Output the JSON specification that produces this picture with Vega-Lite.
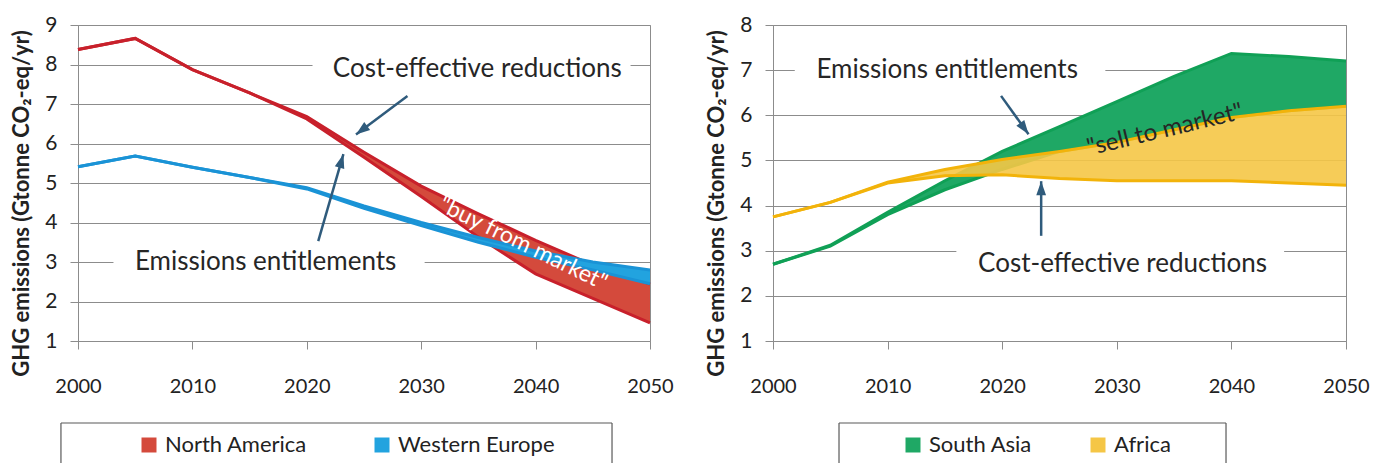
{
  "$schema": "https://vega.github.io/schema/vega-lite/v6.json",
  "background": "white",
  "padding": {"left": 9, "top": 13, "right": 0, "bottom": 0},
  "spacing": 30,
  "config": {
    "font": "Lato",
    "view": {"stroke": "#8c8c8c", "strokeWidth": 1},
    "axis": {"labelFont": "Lato", "labelColor": "#222222", "domainColor": "#8c8c8c", "domainWidth": 1, "tickColor": "#8c8c8c", "tickWidth": 1, "tickSize": 8, "gridColor": "#8c8c8c", "gridWidth": 1, "gridOpacity": 1, "titleFont": "Lato, DejaVu Sans", "titleColor": "#222222"},
    "axisX": {"grid": false, "tickCount": 5, "labelFontSize": 20, "labelPadding": 27, "labelFlush": false},
    "axisY": {"grid": true, "tickCount": 8, "labelFontSize": 21, "labelPadding": 13, "titleFontSize": 22, "titleFontWeight": "bold", "titleX": -45, "titleY": 178, "titleAngle": -90},
    "legend": {"labelFont": "Lato", "labelFontSize": 22, "labelColor": "#222222", "symbolType": "square", "symbolSize": 225, "symbolStrokeWidth": 0, "labelOffset": 5, "padding": 0}
  },
  "datasets": {
    "left": [
      {"region": "North America", "year": 2000, "hi": 8.38, "lo": 8.38},
      {"region": "North America", "year": 2005, "hi": 8.66, "lo": 8.66},
      {"region": "North America", "year": 2010, "hi": 7.87, "lo": 7.87},
      {"region": "North America", "year": 2015, "hi": 7.28, "lo": 7.28},
      {"region": "North America", "year": 2020, "hi": 6.68, "lo": 6.62},
      {"region": "North America", "year": 2025, "hi": 5.78, "lo": 5.65},
      {"region": "North America", "year": 2030, "hi": 4.92, "lo": 4.66},
      {"region": "North America", "year": 2035, "hi": 4.22, "lo": 3.63},
      {"region": "North America", "year": 2040, "hi": 3.55, "lo": 2.7},
      {"region": "North America", "year": 2045, "hi": 2.92, "lo": 2.08},
      {"region": "North America", "year": 2050, "hi": 2.44, "lo": 1.46},
      {"region": "Western Europe", "year": 2000, "hi": 5.41, "lo": 5.41},
      {"region": "Western Europe", "year": 2005, "hi": 5.68, "lo": 5.68},
      {"region": "Western Europe", "year": 2010, "hi": 5.4, "lo": 5.4},
      {"region": "Western Europe", "year": 2015, "hi": 5.14, "lo": 5.14},
      {"region": "Western Europe", "year": 2020, "hi": 4.88, "lo": 4.85},
      {"region": "Western Europe", "year": 2025, "hi": 4.42, "lo": 4.36},
      {"region": "Western Europe", "year": 2030, "hi": 4.0, "lo": 3.92},
      {"region": "Western Europe", "year": 2035, "hi": 3.62, "lo": 3.5},
      {"region": "Western Europe", "year": 2040, "hi": 3.28, "lo": 3.12},
      {"region": "Western Europe", "year": 2045, "hi": 3.0, "lo": 2.8},
      {"region": "Western Europe", "year": 2050, "hi": 2.8, "lo": 2.45}
    ],
    "right": [
      {"region": "South Asia", "year": 2000, "hi": 2.7, "lo": 2.7},
      {"region": "South Asia", "year": 2005, "hi": 3.12, "lo": 3.1},
      {"region": "South Asia", "year": 2010, "hi": 3.85, "lo": 3.8},
      {"region": "South Asia", "year": 2015, "hi": 4.55, "lo": 4.35},
      {"region": "South Asia", "year": 2020, "hi": 5.2, "lo": 4.8},
      {"region": "South Asia", "year": 2025, "hi": 5.75, "lo": 5.2},
      {"region": "South Asia", "year": 2030, "hi": 6.3, "lo": 5.4},
      {"region": "South Asia", "year": 2035, "hi": 6.86, "lo": 5.68},
      {"region": "South Asia", "year": 2040, "hi": 7.37, "lo": 5.95},
      {"region": "South Asia", "year": 2045, "hi": 7.3, "lo": 6.1},
      {"region": "South Asia", "year": 2050, "hi": 7.2, "lo": 6.2},
      {"region": "Africa", "year": 2000, "hi": 3.75, "lo": 3.75},
      {"region": "Africa", "year": 2005, "hi": 4.07, "lo": 4.07},
      {"region": "Africa", "year": 2010, "hi": 4.52, "lo": 4.5},
      {"region": "Africa", "year": 2015, "hi": 4.8, "lo": 4.66},
      {"region": "Africa", "year": 2020, "hi": 5.02, "lo": 4.68},
      {"region": "Africa", "year": 2025, "hi": 5.2, "lo": 4.6},
      {"region": "Africa", "year": 2030, "hi": 5.4, "lo": 4.55},
      {"region": "Africa", "year": 2035, "hi": 5.68, "lo": 4.55},
      {"region": "Africa", "year": 2040, "hi": 5.95, "lo": 4.55},
      {"region": "Africa", "year": 2045, "hi": 6.1, "lo": 4.5},
      {"region": "Africa", "year": 2050, "hi": 6.2, "lo": 4.45}
    ],
    "lbg": [
      {"year": 2020.5, "year2": 2048.3, "v": 8.15, "v2": 7.7},
      {"year": 2003.1, "year2": 2030.3, "v": 3.2, "v2": 2.8}
    ],
    "ltext": [
      {"label": "Cost-effective reductions", "year": 2034.9, "v": 7.88},
      {"label": "Emissions entitlements", "year": 2016.4, "v": 3.0}
    ],
    "lbuy": [{"label": "\"buy from market\"", "year": 2038.9, "v": 3.46}],
    "larrow": [
      {"id": "a1", "year": 2028.8, "v": 7.2, "year2": 2024.3, "v2": 6.23},
      {"id": "a2", "year": 2021.0, "v": 3.53, "year2": 2023.2, "v2": 5.73}
    ],
    "lbox": [
      {"year": 1998.51, "v": -1.076, "year2": 2046.68, "v2": -1.076},
      {"year": 1998.51, "v": -1.076, "year2": 1998.51, "v2": -2.09},
      {"year": 2046.68, "v": -1.076, "year2": 2046.68, "v2": -2.09}
    ],
    "rbg": [
      {"year": 2001.9, "year2": 2029.0, "v": 7.25, "v2": 6.75},
      {"year": 2016.0, "year2": 2044.6, "v": 3.15, "v2": 2.8}
    ],
    "rtext": [
      {"label": "Emissions entitlements", "year": 2015.2, "v": 7.0},
      {"label": "Cost-effective reductions", "year": 2030.5, "v": 2.71}
    ],
    "rsell": [{"label": "\"sell to market\"", "year": 2034.2, "v": 5.67}],
    "rarrow": [
      {"id": "a3", "year": 2019.9, "v": 6.43, "year2": 2022.3, "v2": 5.58},
      {"id": "a4", "year": 2023.4, "v": 3.33, "year2": 2023.4, "v2": 4.54}
    ],
    "rbox": [
      {"year": 2005.76, "v": -0.817, "year2": 2039.53, "v2": -0.817},
      {"year": 2005.76, "v": -0.817, "year2": 2005.76, "v2": -1.703},
      {"year": 2039.53, "v": -0.817, "year2": 2039.53, "v2": -1.703}
    ]
  },
  "resolve": {"scale": {"fill": "independent", "x": "independent", "y": "independent"}, "legend": {"fill": "independent"}},
  "hconcat": [
    {
      "width": 572,
      "height": 316,
      "layer": [
        {
          "data": {"name": "lbg"},
          "mark": {"type": "rect", "fill": "white", "strokeWidth": 0},
          "encoding": {
            "x": {"field": "year", "type": "quantitative", "scale": {"domain": [2000, 2050], "nice": false, "zero": false}, "axis": {"format": "d"}, "title": null},
            "x2": {"field": "year2"},
            "y": {"field": "v", "type": "quantitative", "scale": {"domain": [1, 9], "nice": false, "zero": false}, "title": "GHG emissions (Gtonne CO₂-eq/yr)"},
            "y2": {"field": "v2"}
          }
        },
        {
          "data": {"name": "left"},
          "transform": [{"filter": "datum.region === 'North America'"}],
          "mark": {"type": "area", "interpolate": "linear", "opacity": 1},
          "encoding": {
            "x": {"field": "year", "type": "quantitative", "scale": {"domain": [2000, 2050], "nice": false, "zero": false}, "axis": {"format": "d"}, "title": null},
            "y": {"field": "hi", "type": "quantitative", "scale": {"domain": [1, 9], "nice": false, "zero": false}, "title": "GHG emissions (Gtonne CO₂-eq/yr)"},
            "y2": {"field": "lo"},
            "fill": {"field": "region", "type": "nominal", "scale": {"domain": ["North America", "Western Europe"], "range": ["#D44A3C", "#22A3DF"]}, "legend": {"orient": "none", "legendX": 60, "legendY": 409, "direction": "horizontal", "title": null, "columnPadding": 63}}
          }
        },
        {
          "data": {"name": "left"},
          "transform": [{"filter": "datum.region === 'North America'"}],
          "mark": {"type": "line", "interpolate": "linear", "stroke": "#C8202B", "strokeWidth": 3},
          "encoding": {
            "x": {"field": "year", "type": "quantitative", "scale": {"domain": [2000, 2050], "nice": false, "zero": false}, "axis": {"format": "d"}, "title": null},
            "y": {"field": "hi", "type": "quantitative", "scale": {"domain": [1, 9], "nice": false, "zero": false}, "title": "GHG emissions (Gtonne CO₂-eq/yr)"}
          }
        },
        {
          "data": {"name": "left"},
          "transform": [{"filter": "datum.region === 'North America'"}],
          "mark": {"type": "line", "interpolate": "linear", "stroke": "#C8202B", "strokeWidth": 3},
          "encoding": {
            "x": {"field": "year", "type": "quantitative", "scale": {"domain": [2000, 2050], "nice": false, "zero": false}, "axis": {"format": "d"}, "title": null},
            "y": {"field": "lo", "type": "quantitative", "scale": {"domain": [1, 9], "nice": false, "zero": false}, "title": "GHG emissions (Gtonne CO₂-eq/yr)"}
          }
        },
        {
          "data": {"name": "left"},
          "transform": [{"filter": "datum.region === 'Western Europe'"}],
          "mark": {"type": "area", "interpolate": "linear", "opacity": 1},
          "encoding": {
            "x": {"field": "year", "type": "quantitative", "scale": {"domain": [2000, 2050], "nice": false, "zero": false}, "axis": {"format": "d"}, "title": null},
            "y": {"field": "hi", "type": "quantitative", "scale": {"domain": [1, 9], "nice": false, "zero": false}, "title": "GHG emissions (Gtonne CO₂-eq/yr)"},
            "y2": {"field": "lo"},
            "fill": {"field": "region", "type": "nominal", "scale": {"domain": ["North America", "Western Europe"], "range": ["#D44A3C", "#22A3DF"]}, "legend": {"orient": "none", "legendX": 60, "legendY": 409, "direction": "horizontal", "title": null, "columnPadding": 63}}
          }
        },
        {
          "data": {"name": "left"},
          "transform": [{"filter": "datum.region === 'Western Europe'"}],
          "mark": {"type": "line", "interpolate": "linear", "stroke": "#1A93D6", "strokeWidth": 3},
          "encoding": {
            "x": {"field": "year", "type": "quantitative", "scale": {"domain": [2000, 2050], "nice": false, "zero": false}, "axis": {"format": "d"}, "title": null},
            "y": {"field": "hi", "type": "quantitative", "scale": {"domain": [1, 9], "nice": false, "zero": false}, "title": "GHG emissions (Gtonne CO₂-eq/yr)"}
          }
        },
        {
          "data": {"name": "left"},
          "transform": [{"filter": "datum.region === 'Western Europe'"}],
          "mark": {"type": "line", "interpolate": "linear", "stroke": "#1A93D6", "strokeWidth": 3},
          "encoding": {
            "x": {"field": "year", "type": "quantitative", "scale": {"domain": [2000, 2050], "nice": false, "zero": false}, "axis": {"format": "d"}, "title": null},
            "y": {"field": "lo", "type": "quantitative", "scale": {"domain": [1, 9], "nice": false, "zero": false}, "title": "GHG emissions (Gtonne CO₂-eq/yr)"}
          }
        },
        {
          "data": {"name": "larrow"},
          "mark": {"type": "rule", "stroke": "#2F5B7C", "strokeWidth": 2.5},
          "encoding": {
            "x": {"field": "year", "type": "quantitative", "scale": {"domain": [2000, 2050], "nice": false, "zero": false}, "axis": {"format": "d"}, "title": null},
            "x2": {"field": "year2"},
            "y": {"field": "v", "type": "quantitative", "scale": {"domain": [1, 9], "nice": false, "zero": false}, "title": "GHG emissions (Gtonne CO₂-eq/yr)"},
            "y2": {"field": "v2"}
          }
        },
        {
          "data": {"name": "larrow"},
          "transform": [{"filter": "datum.id === 'a1'"}],
          "mark": {"type": "point", "shape": "M0,0L-0.7,2L0.7,2Z", "size": 196, "filled": true, "color": "#2F5B7C", "opacity": 1, "angle": 233},
          "encoding": {
            "x": {"field": "year2", "type": "quantitative", "scale": {"domain": [2000, 2050], "nice": false, "zero": false}, "axis": {"format": "d"}, "title": null},
            "y": {"field": "v2", "type": "quantitative", "scale": {"domain": [1, 9], "nice": false, "zero": false}, "title": "GHG emissions (Gtonne CO₂-eq/yr)"}
          }
        },
        {
          "data": {"name": "larrow"},
          "transform": [{"filter": "datum.id === 'a2'"}],
          "mark": {"type": "point", "shape": "M0,0L-0.7,2L0.7,2Z", "size": 196, "filled": true, "color": "#2F5B7C", "opacity": 1, "angle": 16},
          "encoding": {
            "x": {"field": "year2", "type": "quantitative", "scale": {"domain": [2000, 2050], "nice": false, "zero": false}, "axis": {"format": "d"}, "title": null},
            "y": {"field": "v2", "type": "quantitative", "scale": {"domain": [1, 9], "nice": false, "zero": false}, "title": "GHG emissions (Gtonne CO₂-eq/yr)"}
          }
        },
        {
          "data": {"name": "ltext"},
          "mark": {"type": "text", "font": "Lato", "fontSize": 26, "fill": "#262626", "align": "center", "baseline": "middle"},
          "encoding": {
            "x": {"field": "year", "type": "quantitative", "scale": {"domain": [2000, 2050], "nice": false, "zero": false}, "axis": {"format": "d"}, "title": null},
            "y": {"field": "v", "type": "quantitative", "scale": {"domain": [1, 9], "nice": false, "zero": false}, "title": "GHG emissions (Gtonne CO₂-eq/yr)"},
            "text": {"field": "label"}
          }
        },
        {
          "data": {"name": "lbuy"},
          "mark": {"type": "text", "font": "Lato", "fontSize": 23, "fill": "#ffffff", "align": "center", "baseline": "middle", "angle": 26},
          "encoding": {
            "x": {"field": "year", "type": "quantitative", "scale": {"domain": [2000, 2050], "nice": false, "zero": false}, "axis": {"format": "d"}, "title": null},
            "y": {"field": "v", "type": "quantitative", "scale": {"domain": [1, 9], "nice": false, "zero": false}, "title": "GHG emissions (Gtonne CO₂-eq/yr)"},
            "text": {"field": "label"}
          }
        },
        {
          "data": {"name": "lbox"},
          "mark": {"type": "rule", "stroke": "#595959", "strokeWidth": 1.2, "clip": false},
          "encoding": {
            "x": {"field": "year", "type": "quantitative", "scale": {"domain": [2000, 2050], "nice": false, "zero": false}, "axis": {"format": "d"}, "title": null},
            "x2": {"field": "year2"},
            "y": {"field": "v", "type": "quantitative", "scale": {"domain": [1, 9], "nice": false, "zero": false}, "title": "GHG emissions (Gtonne CO₂-eq/yr)"},
            "y2": {"field": "v2"}
          }
        }
      ]
    },
    {
      "width": 573,
      "height": 316,
      "layer": [
        {
          "data": {"name": "rbg"},
          "mark": {"type": "rect", "fill": "white", "strokeWidth": 0},
          "encoding": {
            "x": {"field": "year", "type": "quantitative", "scale": {"domain": [2000, 2050], "nice": false, "zero": false}, "axis": {"format": "d"}, "title": null},
            "x2": {"field": "year2"},
            "y": {"field": "v", "type": "quantitative", "scale": {"domain": [1, 8], "nice": false, "zero": false}, "title": "GHG emissions (Gtonne CO₂-eq/yr)"},
            "y2": {"field": "v2"}
          }
        },
        {
          "data": {"name": "right"},
          "transform": [{"filter": "datum.region === 'South Asia'"}],
          "mark": {"type": "area", "interpolate": "linear", "opacity": 1},
          "encoding": {
            "x": {"field": "year", "type": "quantitative", "scale": {"domain": [2000, 2050], "nice": false, "zero": false}, "axis": {"format": "d"}, "title": null},
            "y": {"field": "hi", "type": "quantitative", "scale": {"domain": [1, 8], "nice": false, "zero": false}, "title": "GHG emissions (Gtonne CO₂-eq/yr)"},
            "y2": {"field": "lo"},
            "fill": {"field": "region", "type": "nominal", "scale": {"domain": ["South Asia", "Africa"], "range": ["#1FA865", "#F5C646"]}, "legend": {"orient": "none", "legendX": 129, "legendY": 409, "direction": "horizontal", "title": null, "columnPadding": 54}}
          }
        },
        {
          "data": {"name": "right"},
          "transform": [{"filter": "datum.region === 'South Asia'"}],
          "mark": {"type": "line", "interpolate": "linear", "stroke": "#10A056", "strokeWidth": 3},
          "encoding": {
            "x": {"field": "year", "type": "quantitative", "scale": {"domain": [2000, 2050], "nice": false, "zero": false}, "axis": {"format": "d"}, "title": null},
            "y": {"field": "hi", "type": "quantitative", "scale": {"domain": [1, 8], "nice": false, "zero": false}, "title": "GHG emissions (Gtonne CO₂-eq/yr)"}
          }
        },
        {
          "data": {"name": "right"},
          "transform": [{"filter": "datum.region === 'South Asia'"}],
          "mark": {"type": "line", "interpolate": "linear", "stroke": "#10A056", "strokeWidth": 3},
          "encoding": {
            "x": {"field": "year", "type": "quantitative", "scale": {"domain": [2000, 2050], "nice": false, "zero": false}, "axis": {"format": "d"}, "title": null},
            "y": {"field": "lo", "type": "quantitative", "scale": {"domain": [1, 8], "nice": false, "zero": false}, "title": "GHG emissions (Gtonne CO₂-eq/yr)"}
          }
        },
        {
          "data": {"name": "right"},
          "transform": [{"filter": "datum.region === 'Africa'"}],
          "mark": {"type": "area", "interpolate": "linear", "opacity": 0.9},
          "encoding": {
            "x": {"field": "year", "type": "quantitative", "scale": {"domain": [2000, 2050], "nice": false, "zero": false}, "axis": {"format": "d"}, "title": null},
            "y": {"field": "hi", "type": "quantitative", "scale": {"domain": [1, 8], "nice": false, "zero": false}, "title": "GHG emissions (Gtonne CO₂-eq/yr)"},
            "y2": {"field": "lo"},
            "fill": {"field": "region", "type": "nominal", "scale": {"domain": ["South Asia", "Africa"], "range": ["#1FA865", "#F5C646"]}, "legend": {"orient": "none", "legendX": 129, "legendY": 409, "direction": "horizontal", "title": null, "columnPadding": 54}}
          }
        },
        {
          "data": {"name": "right"},
          "transform": [{"filter": "datum.region === 'Africa'"}],
          "mark": {"type": "line", "interpolate": "linear", "stroke": "#F2B30A", "strokeWidth": 3},
          "encoding": {
            "x": {"field": "year", "type": "quantitative", "scale": {"domain": [2000, 2050], "nice": false, "zero": false}, "axis": {"format": "d"}, "title": null},
            "y": {"field": "hi", "type": "quantitative", "scale": {"domain": [1, 8], "nice": false, "zero": false}, "title": "GHG emissions (Gtonne CO₂-eq/yr)"}
          }
        },
        {
          "data": {"name": "right"},
          "transform": [{"filter": "datum.region === 'Africa'"}],
          "mark": {"type": "line", "interpolate": "linear", "stroke": "#F2B30A", "strokeWidth": 3},
          "encoding": {
            "x": {"field": "year", "type": "quantitative", "scale": {"domain": [2000, 2050], "nice": false, "zero": false}, "axis": {"format": "d"}, "title": null},
            "y": {"field": "lo", "type": "quantitative", "scale": {"domain": [1, 8], "nice": false, "zero": false}, "title": "GHG emissions (Gtonne CO₂-eq/yr)"}
          }
        },
        {
          "data": {"name": "rarrow"},
          "mark": {"type": "rule", "stroke": "#2F5B7C", "strokeWidth": 2.5},
          "encoding": {
            "x": {"field": "year", "type": "quantitative", "scale": {"domain": [2000, 2050], "nice": false, "zero": false}, "axis": {"format": "d"}, "title": null},
            "x2": {"field": "year2"},
            "y": {"field": "v", "type": "quantitative", "scale": {"domain": [1, 8], "nice": false, "zero": false}, "title": "GHG emissions (Gtonne CO₂-eq/yr)"},
            "y2": {"field": "v2"}
          }
        },
        {
          "data": {"name": "rarrow"},
          "transform": [{"filter": "datum.id === 'a3'"}],
          "mark": {"type": "point", "shape": "M0,0L-0.7,2L0.7,2Z", "size": 196, "filled": true, "color": "#2F5B7C", "opacity": 1, "angle": 144},
          "encoding": {
            "x": {"field": "year2", "type": "quantitative", "scale": {"domain": [2000, 2050], "nice": false, "zero": false}, "axis": {"format": "d"}, "title": null},
            "y": {"field": "v2", "type": "quantitative", "scale": {"domain": [1, 8], "nice": false, "zero": false}, "title": "GHG emissions (Gtonne CO₂-eq/yr)"}
          }
        },
        {
          "data": {"name": "rarrow"},
          "transform": [{"filter": "datum.id === 'a4'"}],
          "mark": {"type": "point", "shape": "M0,0L-0.7,2L0.7,2Z", "size": 196, "filled": true, "color": "#2F5B7C", "opacity": 1, "angle": 0},
          "encoding": {
            "x": {"field": "year2", "type": "quantitative", "scale": {"domain": [2000, 2050], "nice": false, "zero": false}, "axis": {"format": "d"}, "title": null},
            "y": {"field": "v2", "type": "quantitative", "scale": {"domain": [1, 8], "nice": false, "zero": false}, "title": "GHG emissions (Gtonne CO₂-eq/yr)"}
          }
        },
        {
          "data": {"name": "rtext"},
          "mark": {"type": "text", "font": "Lato", "fontSize": 26, "fill": "#262626", "align": "center", "baseline": "middle"},
          "encoding": {
            "x": {"field": "year", "type": "quantitative", "scale": {"domain": [2000, 2050], "nice": false, "zero": false}, "axis": {"format": "d"}, "title": null},
            "y": {"field": "v", "type": "quantitative", "scale": {"domain": [1, 8], "nice": false, "zero": false}, "title": "GHG emissions (Gtonne CO₂-eq/yr)"},
            "text": {"field": "label"}
          }
        },
        {
          "data": {"name": "rsell"},
          "mark": {"type": "text", "font": "Lato", "fontSize": 24, "fill": "#262626", "align": "center", "baseline": "middle", "angle": -13.5},
          "encoding": {
            "x": {"field": "year", "type": "quantitative", "scale": {"domain": [2000, 2050], "nice": false, "zero": false}, "axis": {"format": "d"}, "title": null},
            "y": {"field": "v", "type": "quantitative", "scale": {"domain": [1, 8], "nice": false, "zero": false}, "title": "GHG emissions (Gtonne CO₂-eq/yr)"},
            "text": {"field": "label"}
          }
        },
        {
          "data": {"name": "rbox"},
          "mark": {"type": "rule", "stroke": "#595959", "strokeWidth": 1.2, "clip": false},
          "encoding": {
            "x": {"field": "year", "type": "quantitative", "scale": {"domain": [2000, 2050], "nice": false, "zero": false}, "axis": {"format": "d"}, "title": null},
            "x2": {"field": "year2"},
            "y": {"field": "v", "type": "quantitative", "scale": {"domain": [1, 8], "nice": false, "zero": false}, "title": "GHG emissions (Gtonne CO₂-eq/yr)"},
            "y2": {"field": "v2"}
          }
        }
      ]
    }
  ]
}
